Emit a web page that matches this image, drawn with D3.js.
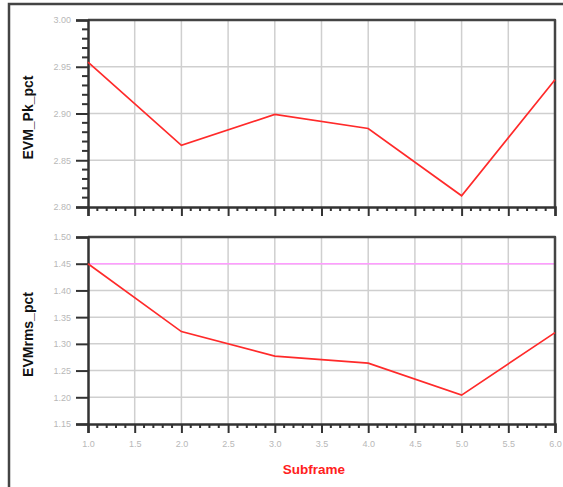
<!DOCTYPE html>
<html>
<head>
<meta charset="utf-8">
<script src="https://cdn.jsdelivr.net/npm/d3@7"></script>
<style>
  body { margin: 0; background: #fff; }
  svg { display: block; }
</style>
</head>
<body>
<script>
var width = 563,
    height = 487;

// data
var subframe = [1, 2, 3, 4, 5, 6];
var evmPk = [2.955, 2.866, 2.899, 2.884, 2.812, 2.936];
var evmRms = [1.45, 1.323, 1.277, 1.264, 1.204, 1.321];
var rmsLimit = 1.45;

var xTicks = [1.0, 1.5, 2.0, 2.5, 3.0, 3.5, 4.0, 4.5, 5.0, 5.5, 6.0];
var pkTicks = [3.00, 2.95, 2.90, 2.85, 2.80];
var rmsTicks = [1.50, 1.45, 1.40, 1.35, 1.30, 1.25, 1.20, 1.15];

var svg = d3.select('body')
  .append('svg')
  .attr('width', width)
  .attr('height', height);

// outer frame
svg.append('rect')
  .attr('x', 9)
  .attr('y', 4)
  .attr('width', 600)
  .attr('height', 600)
  .attr('fill', 'none')
  .attr('stroke', '#444')
  .attr('stroke-width', 2.5);

var left = 88, right = 555;

var x = d3.scaleLinear()
  .domain([1, 6])
  .range([left, right]);

function panel(top, bottom, values, ticks, minorY, title, showX, limit) {
  var y = d3.scaleLinear()
    .domain([d3.min(ticks), d3.max(ticks)])
    .range([bottom, top]);

  var g = svg.append('g');

  // grid
  g.selectAll('.vgrid')
    .data(xTicks.slice(1, -1))
    .enter().append('line')
    .attr('x1', function(d) { return x(d); })
    .attr('x2', function(d) { return x(d); })
    .attr('y1', top)
    .attr('y2', bottom)
    .attr('stroke', '#cfcfcf')
    .attr('stroke-width', 1.5);

  g.selectAll('.hgrid')
    .data(ticks.slice(1, -1))
    .enter().append('line')
    .attr('x1', left)
    .attr('x2', right)
    .attr('y1', function(d) { return y(d); })
    .attr('y2', function(d) { return y(d); })
    .attr('stroke', '#cfcfcf')
    .attr('stroke-width', 1.5);

  if (limit != null) {
    g.append('line')
      .attr('x1', left)
      .attr('x2', right)
      .attr('y1', y(limit))
      .attr('y2', y(limit))
      .attr('stroke', '#ff9cff')
      .attr('stroke-width', 1.5);
  }

  // box: top and right thick
  g.append('path')
    .attr('d', 'M' + left + ',' + top + 'H' + right + 'V' + bottom)
    .attr('fill', 'none')
    .attr('stroke', '#444')
    .attr('stroke-width', 2.5)
    .attr('stroke-linejoin', 'round');

  // y axis
  var yAxis = d3.axisLeft(y)
    .tickValues(ticks)
    .tickSize(12)
    .tickPadding(5)
    .tickFormat(d3.format('.2f'));
  var ya = g.append('g')
    .attr('transform', 'translate(' + left + ',0)')
    .call(yAxis);
  ya.select('.domain').attr('stroke', '#333').attr('stroke-width', 2.5);
  ya.selectAll('.tick line').attr('stroke', '#333').attr('stroke-width', 2);
  ya.selectAll('.tick text')
    .attr('fill', '#b8b8b8')
    .style('font-family', 'Liberation Sans, Arial, sans-serif')
    .style('font-size', '9px');

  if (minorY) {
    var minor = d3.range(d3.min(ticks), d3.max(ticks) + 1e-9, 0.01)
      .filter(function(d) { return Math.abs(Math.round(d * 20) - d * 20) > 1e-6; });
    g.selectAll('.yminor')
      .data(minor)
      .enter().append('line')
      .attr('x1', left - 6)
      .attr('x2', left)
      .attr('y1', function(d) { return y(d); })
      .attr('y2', function(d) { return y(d); })
      .attr('stroke', '#333')
      .attr('stroke-width', 2);
  }

  // x axis
  var xAxis = d3.axisBottom(x)
    .tickValues(xTicks)
    .tickSize(9)
    .tickPadding(8)
    .tickFormat(showX ? d3.format('.1f') : '');
  var xa = g.append('g')
    .attr('transform', 'translate(0,' + bottom + ')')
    .call(xAxis);
  xa.select('.domain').attr('stroke', '#333').attr('stroke-width', 2.5);
  xa.selectAll('.tick line').attr('stroke', '#333').attr('stroke-width', 2);
  xa.selectAll('.tick text')
    .attr('fill', '#b8b8b8')
    .style('font-family', 'Liberation Sans, Arial, sans-serif')
    .style('font-size', '9px');

  var xminor = d3.range(1, 6.0001, 0.1)
    .filter(function(d) { return Math.abs(Math.round(d * 2) - d * 2) > 1e-6; });
  g.selectAll('.xminor')
    .data(xminor)
    .enter().append('line')
    .attr('x1', function(d) { return x(d); })
    .attr('x2', function(d) { return x(d); })
    .attr('y1', bottom)
    .attr('y2', bottom + 4)
    .attr('stroke', '#333')
    .attr('stroke-width', 2);

  // data line
  var line = d3.line()
    .x(function(d, i) { return x(subframe[i]); })
    .y(function(d) { return y(d); });

  g.append('path')
    .datum(values)
    .attr('d', line)
    .attr('fill', 'none')
    .attr('stroke', '#ff2a2a')
    .attr('stroke-width', 1.7);

  // y title
  g.append('text')
    .attr('transform', 'translate(33,' + ((top + bottom) / 2 + 4) + ') rotate(-90)')
    .attr('text-anchor', 'middle')
    .style('font-family', 'Liberation Sans, Arial, sans-serif')
    .style('font-size', '14px')
    .style('font-weight', 'bold')
    .attr('fill', '#111')
    .text(title);
}

panel(20, 207, evmPk, pkTicks, true, 'EVM_Pk_pct', false, null);
panel(237, 424, evmRms, rmsTicks, false, 'EVMrms_pct', true, rmsLimit);

svg.append('text')
  .attr('x', 314)
  .attr('y', 474)
  .attr('text-anchor', 'middle')
  .style('font-family', 'Liberation Sans, Arial, sans-serif')
  .style('font-size', '13.5px')
  .style('font-weight', 'bold')
  .attr('fill', '#ff2020')
  .text('Subframe');
</script>
</body>
</html>
